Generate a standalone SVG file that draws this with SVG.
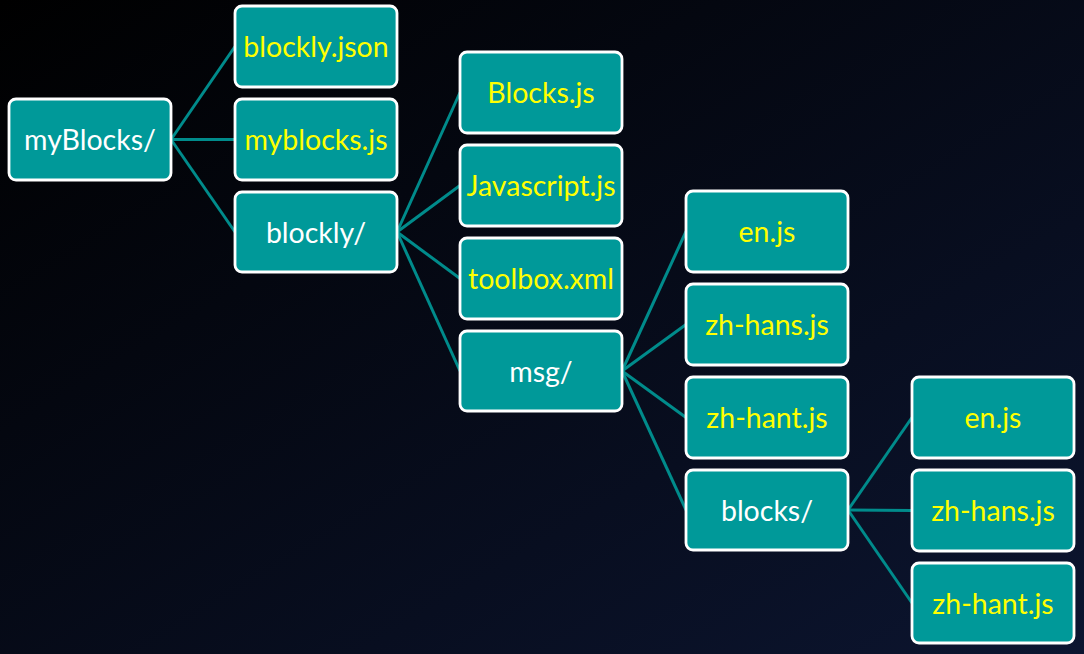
<svg xmlns="http://www.w3.org/2000/svg" width="1084" height="654" viewBox="0 0 1084 654">
<defs>
<linearGradient id="bg" x1="0" y1="0" x2="1" y2="1">
<stop offset="0" stop-color="#000000"/>
<stop offset="1" stop-color="#0c1530"/>
</linearGradient>
<style>
.box{fill:#009999;stroke:#ffffff;stroke-width:2.8}
.t{font-family:Lato,"Open Sans",sans-serif;font-size:28.5px;text-anchor:middle;dominant-baseline:central}
.d{fill:#ffffff}
.f{fill:#ffff00}
.c line{stroke:#008b8b;stroke-width:3}
</style>
</defs>
<rect width="1084" height="654" fill="url(#bg)"/>
<g class="c" id="connectors">
<line x1="171" y1="139.5" x2="235" y2="46.5"/>
<line x1="171" y1="139.5" x2="235" y2="139.5"/>
<line x1="171" y1="139.5" x2="235" y2="232"/>
<line x1="397" y1="232" x2="460" y2="92.5"/>
<line x1="397" y1="232" x2="460" y2="185.5"/>
<line x1="397" y1="232" x2="460" y2="278.5"/>
<line x1="397" y1="232" x2="460" y2="371"/>
<line x1="622" y1="371" x2="686" y2="231.5"/>
<line x1="622" y1="371" x2="686" y2="324.5"/>
<line x1="622" y1="371" x2="686" y2="417.5"/>
<line x1="622" y1="371" x2="686" y2="510"/>
<line x1="848" y1="510" x2="912" y2="417.5"/>
<line x1="848" y1="510" x2="912" y2="510.5"/>
<line x1="848" y1="510" x2="912" y2="603"/>
</g>
<g id="n-myBlocks"><rect class="box" x="9" y="99" width="162" height="81" rx="7"/><text class="t d" x="90" y="139">myBlocks/</text></g>
<g id="n-blockly-json"><rect class="box" x="235" y="6" width="162" height="81" rx="7"/><text class="t f" x="316" y="46">blockly.json</text></g>
<g id="n-myblocks-js"><rect class="box" x="235" y="99" width="162" height="81" rx="7"/><text class="t f" x="316" y="139">myblocks.js</text></g>
<g id="n-blockly"><rect class="box" x="235" y="192" width="162" height="80" rx="7"/><text class="t d" x="316" y="231.5">blockly/</text></g>
<g id="n-Blocks-js"><rect class="box" x="460" y="52" width="162" height="81" rx="7"/><text class="t f" x="541" y="92">Blocks.js</text></g>
<g id="n-Javascript-js"><rect class="box" x="460" y="145" width="162" height="81" rx="7"/><text class="t f" x="541" y="185">Javascript.js</text></g>
<g id="n-toolbox-xml"><rect class="box" x="460" y="238" width="162" height="81" rx="7"/><text class="t f" x="541" y="278">toolbox.xml</text></g>
<g id="n-msg"><rect class="box" x="460" y="331" width="162" height="80" rx="7"/><text class="t d" x="541" y="370.5">msg/</text></g>
<g id="n-msg-en"><rect class="box" x="686" y="191" width="162" height="81" rx="7"/><text class="t f" x="767" y="231">en.js</text></g>
<g id="n-msg-zh-hans"><rect class="box" x="686" y="284" width="162" height="81" rx="7"/><text class="t f" x="767" y="324">zh-hans.js</text></g>
<g id="n-msg-zh-hant"><rect class="box" x="686" y="377" width="162" height="81" rx="7"/><text class="t f" x="767" y="417">zh-hant.js</text></g>
<g id="n-blocks"><rect class="box" x="686" y="470" width="162" height="80" rx="7"/><text class="t d" x="767" y="509.5">blocks/</text></g>
<g id="n-blocks-en"><rect class="box" x="912" y="377" width="162" height="81" rx="7"/><text class="t f" x="993" y="417">en.js</text></g>
<g id="n-blocks-zh-hans"><rect class="box" x="912" y="470" width="162" height="81" rx="7"/><text class="t f" x="993" y="510">zh-hans.js</text></g>
<g id="n-blocks-zh-hant"><rect class="box" x="912" y="563" width="162" height="80" rx="7"/><text class="t f" x="993" y="602.5">zh-hant.js</text></g>
</svg>
